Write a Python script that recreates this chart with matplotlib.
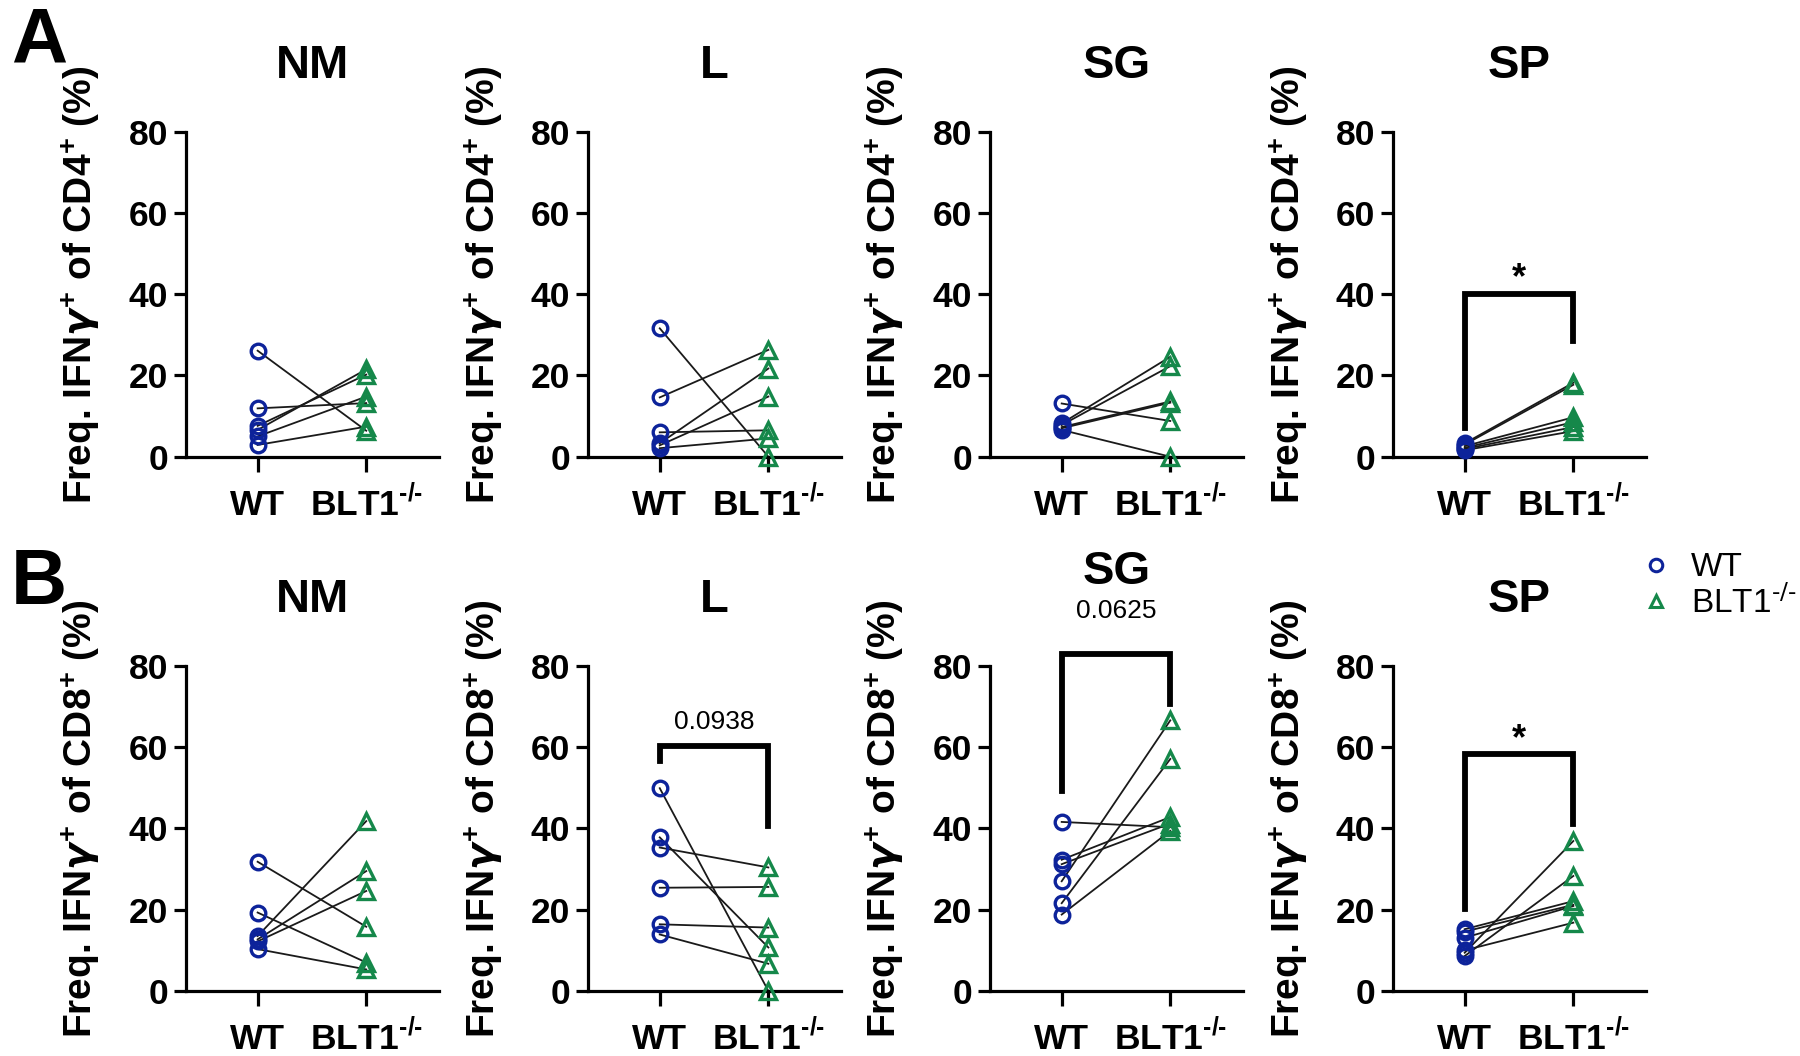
import matplotlib
matplotlib.use("Agg")
import matplotlib.pyplot as plt
from matplotlib.lines import Line2D

plt.rcParams["font.family"] = ["Liberation Sans", "DejaVu Sans"]
plt.rcParams["mathtext.fontset"] = "custom"
plt.rcParams["mathtext.rm"] = "Liberation Sans:bold"
plt.rcParams["mathtext.bf"] = "Liberation Sans:bold"
plt.rcParams["mathtext.sf"] = "Liberation Sans"
plt.rcParams["mathtext.it"] = "DejaVu Sans:bold:italic"

# ---- data (paired samples, WT -> BLT1-/-) ----
groups = ["WT", "BLT1$^{\\text{-/-}}$"]
tissues = ["NM", "L", "SG", "SP"]

a_nm_wt = [26.1, 11.9, 7.6, 6.6, 5.0, 2.9]
a_nm_ko = [6.4, 13.2, 20.2, 21.5, 14.8, 7.4]
a_l_wt = [31.6, 14.6, 6.0, 3.3, 2.8, 2.1]
a_l_ko = [0.0, 26.3, 6.5, 21.7, 14.8, 4.5]
a_sg_wt = [13.1, 8.2, 7.8, 7.3, 7.0, 6.6]
a_sg_ko = [8.8, 24.6, 22.3, 13.6, 13.3, 0.0]
a_sp_wt = [3.3, 3.0, 2.6, 2.2, 1.9, 1.6]
a_sp_ko = [18.2, 17.7, 9.7, 8.5, 7.3, 6.3]

b_nm_wt = [31.8, 19.3, 13.5, 12.7, 12.2, 10.3]
b_nm_ko = [15.8, 7.0, 41.8, 29.5, 24.6, 5.3]
b_l_wt = [49.9, 37.8, 35.3, 25.4, 16.4, 13.9]
b_l_ko = [0.0, 10.7, 30.4, 25.6, 15.6, 6.7]
b_sg_wt = [41.6, 32.3, 31.2, 27.0, 21.6, 18.8]
b_sg_ko = [40.3, 42.8, 41.2, 66.6, 57.1, 39.4]
b_sp_wt = [15.2, 14.6, 13.1, 10.0, 9.4, 8.6]
b_sp_ko = [22.1, 21.2, 20.9, 16.8, 36.9, 28.3]

rows = [
    [(a_nm_wt, a_nm_ko), (a_l_wt, a_l_ko), (a_sg_wt, a_sg_ko), (a_sp_wt, a_sp_ko)],
    [(b_nm_wt, b_nm_ko), (b_l_wt, b_l_ko), (b_sg_wt, b_sg_ko), (b_sp_wt, b_sp_ko)],
]
ylabels = ["Freq. IFN$\\gamma^{+}$ of CD4$^{+}$ (%)", "Freq. IFN$\\gamma^{+}$ of CD8$^{+}$ (%)"]

# significance brackets: (row, col) -> (top, left leg end, right leg end, label, label y)
brackets = {
    (0, 3): (40.0, 7.0, 28.6, "*", 43.7),
    (1, 1): (60.3, 56.6, 40.6, "0.0938", 66.3),
    (1, 2): (82.9, 49.2, 70.6, "0.0625", 93.6),
    (1, 3): (58.2, 20.1, 41.0, "*", 61.8),
}

BLUE = "#0d239a"
GREEN = "#15884a"

fig = plt.figure(figsize=(18, 10.56), dpi=100)

lefts = [0.1033, 0.3267, 0.5500, 0.7739]
bottoms = [0.5675, 0.0616]
w, h = 0.1406, 0.3078

for r, row in enumerate(rows):
    for c, (wt, ko) in enumerate(row):
        ax = fig.add_axes([lefts[c], bottoms[r], w, h])
        for y0, y1 in zip(wt, ko):
            ax.plot([0, 1], [y0, y1], color="#1a1a1a", lw=1.3, zorder=2, clip_on=False)
        ax.plot([0] * len(wt), wt, "o", ms=10.5, mfc="none", mec=BLUE, mew=2.4,
                zorder=3, clip_on=False)
        ax.plot([1] * len(ko), ko, "^", ms=11, mfc="none", mec=GREEN, mew=2.4,
                zorder=3, clip_on=False)

        title_pad = 39
        if (r, c) in brackets:
            top, lb, rb, lab, ly = brackets[(r, c)]
            ax.plot([0, 0, 1, 1], [lb, top, top, rb], color="black", lw=4.2,
                    solid_joinstyle="miter", clip_on=False, zorder=4)
            if lab == "*":
                ax.text(0.5, ly, lab, ha="center", va="center",
                        fontsize=26, fontweight="bold")
            else:
                ax.text(0.5, ly, lab, ha="center", va="center", fontsize=19)
            if ly > 80:
                title_pad = 59

        ax.set_xlim(-0.66, 1.67)
        ax.set_ylim(0, 80)
        ax.set_yticks([0, 20, 40, 60, 80])
        ax.set_xticks([0, 1])
        ax.set_xticklabels(groups)
        for lbl in ax.get_xticklabels():
            lbl.set_va("baseline")
        for s in ["top", "right"]:
            ax.spines[s].set_visible(False)
        for s in ["left", "bottom"]:
            ax.spines[s].set_linewidth(2.3)
        ax.tick_params(axis="y", length=9, width=2.3, pad=4, labelsize=25.5)
        ax.tick_params(axis="x", length=11, width=2.3, pad=31, labelsize=25.5)
        for lbl in ax.get_xticklabels() + ax.get_yticklabels():
            lbl.set_fontweight("bold")
        ax.set_ylabel(ylabels[r], fontsize=28, fontweight="bold")
        ax.yaxis.set_label_coords(-0.33, 0.53)
        ax.set_title(tissues[c], fontsize=34, fontweight="bold", pad=title_pad)

fig.text(0.006, 0.995, "A", fontsize=56, fontweight="bold", va="top", ha="left")
fig.text(0.006, 0.482, "B", fontsize=56, fontweight="bold", va="top", ha="left")

handles = [
    Line2D([], [], ls="none", marker="o", ms=9, mfc="none", mec=BLUE, mew=2.2),
    Line2D([], [], ls="none", marker="^", ms=9, mfc="none", mec=GREEN, mew=2.2),
]
leg = fig.legend(handles, ["WT", "BLT1$^{\\text{-/-}}$"], loc="center left",
                 bbox_to_anchor=(0.894, 0.445), frameon=False, fontsize=24,
                 handletextpad=0.55, labelspacing=0.05, handlelength=1.0)
for t in leg.get_texts():
    t.set_math_fontfamily("dejavusans")

fig.savefig("out.png", dpi=100)
